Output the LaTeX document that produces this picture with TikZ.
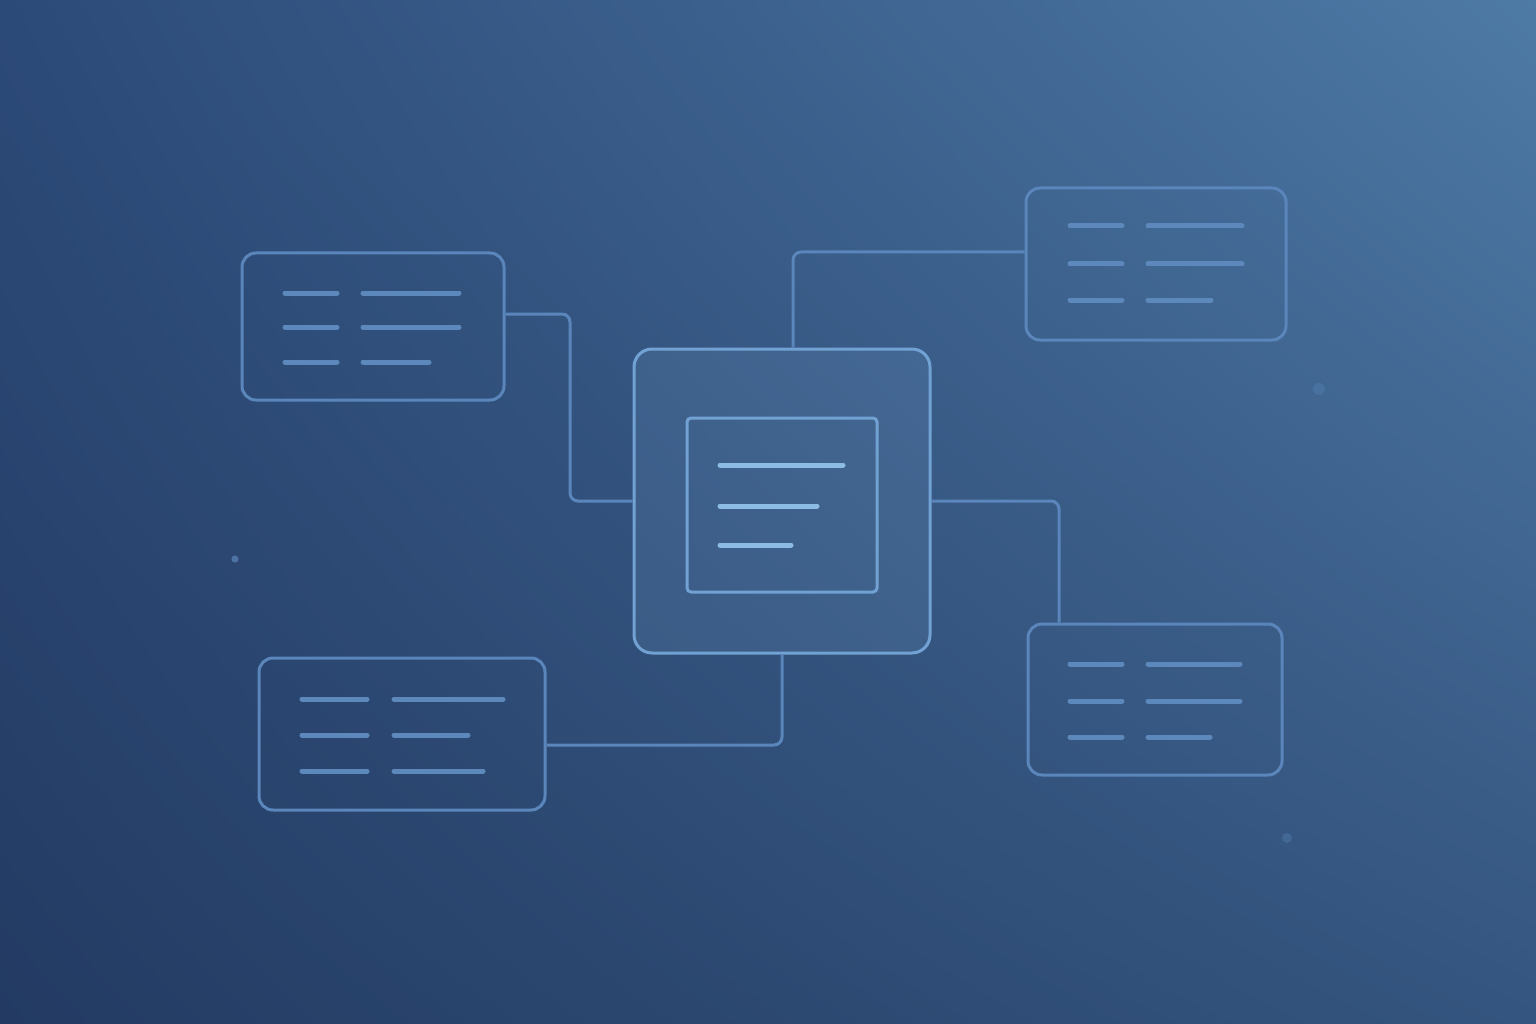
\documentclass[tikz,border=0pt]{standalone}
\usepackage{tikz}
\usepackage{xcolor}
\usetikzlibrary{shadings}

\definecolor{bgul}{HTML}{2C4A78}
\definecolor{bgur}{HTML}{4E7AA6}
\definecolor{bgll}{HTML}{233B63}
\definecolor{bglr}{HTML}{34557F}
\definecolor{edgeblue}{HTML}{5A86BB}
\definecolor{hubblue}{HTML}{72A2D4}
\definecolor{barblue}{HTML}{5C88BC}
\definecolor{hubbar}{HTML}{8CBBE3}

\tikzset{
	card/.style={draw=edgeblue,line width=3pt,rounded corners=14pt,inner sep=0pt},
	link/.style={draw=edgeblue,line width=3pt,rounded corners=8pt},
	bar/.style={draw=barblue,line width=5pt,line cap=round},
}

\begin{document}
\begin{tikzpicture}[x=1pt,y=-1pt]
		\useasboundingbox (0,0) rectangle (1536,1024);
		\shade[upper left=bgul,upper right=bgur,lower left=bgll,lower right=bglr] (0,0) rectangle (1536,1024);
		% faint dots
		\fill[barblue,opacity=0.7] (235,559) circle (3.5);
		\fill[barblue,opacity=0.35] (1319,389) circle (6);
		\fill[barblue,opacity=0.35] (1287,838) circle (5);
		% hub and side cards
		\node[card,draw=hubblue,rounded corners=18pt,fill=hubbar,fill opacity=0.12,text opacity=1,minimum width=296pt,minimum height=304pt] (hub) at (782,501) {};
		\node[draw=hubblue,line width=3pt,rounded corners=4pt,minimum width=190pt,minimum height=174pt,inner sep=0pt] (panel) at (782,505) {};
		\node[card,minimum width=262pt,minimum height=147pt] (tl) at (373,326.5) {};
		\node[card,minimum width=260pt,minimum height=152pt] (tr) at (1156,264) {};
		\node[card,minimum width=254pt,minimum height=151pt] (br) at (1155,699.5) {};
		\node[card,minimum width=286pt,minimum height=152pt] (bl) at (402,734) {};
		% connectors
		\coordinate (k1) at (570,314);
		\coordinate (k2) at (793,252);
		\coordinate (k3) at (1059,501);
		\coordinate (k4) at (782,745);
		\draw[link] (tl.east |- k1) -- (k1) -- (k1 |- hub.west) -- (hub.west);
		\draw[link] (hub.north -| k2) -- (k2) -- (tr.west |- k2);
		\draw[link] (hub.east) -- (k3) -- (k3 |- br.north);
		\draw[link] (hub.south) -- (k4) -- (bl.east |- k4);
		% text bars
		\foreach \y in {293,327,362} \draw[bar] (285,\y) -- (337,\y);
		\foreach \y/\b in {293/459,327/459,362/429} \draw[bar] (363,\y) -- (\b,\y);
		\foreach \y in {226,264,300} \draw[bar] (1070,\y) -- (1122,\y);
		\foreach \y/\b in {226/1242,264/1242,300/1211} \draw[bar] (1148,\y) -- (\b,\y);
		\foreach \y in {664,701,737} \draw[bar] (1070,\y) -- (1122,\y);
		\foreach \y/\b in {664/1240,701/1240,737/1210} \draw[bar] (1148,\y) -- (\b,\y);
		\foreach \y in {699,735,771} \draw[bar] (302,\y) -- (367,\y);
		\foreach \y/\b in {699/503,735/468,771/483} \draw[bar] (394,\y) -- (\b,\y);
		\foreach \y/\b in {465/843,506/817,545/791} \draw[bar,draw=hubbar] (720,\y) -- (\b,\y);
	\end{tikzpicture}
\end{document}
